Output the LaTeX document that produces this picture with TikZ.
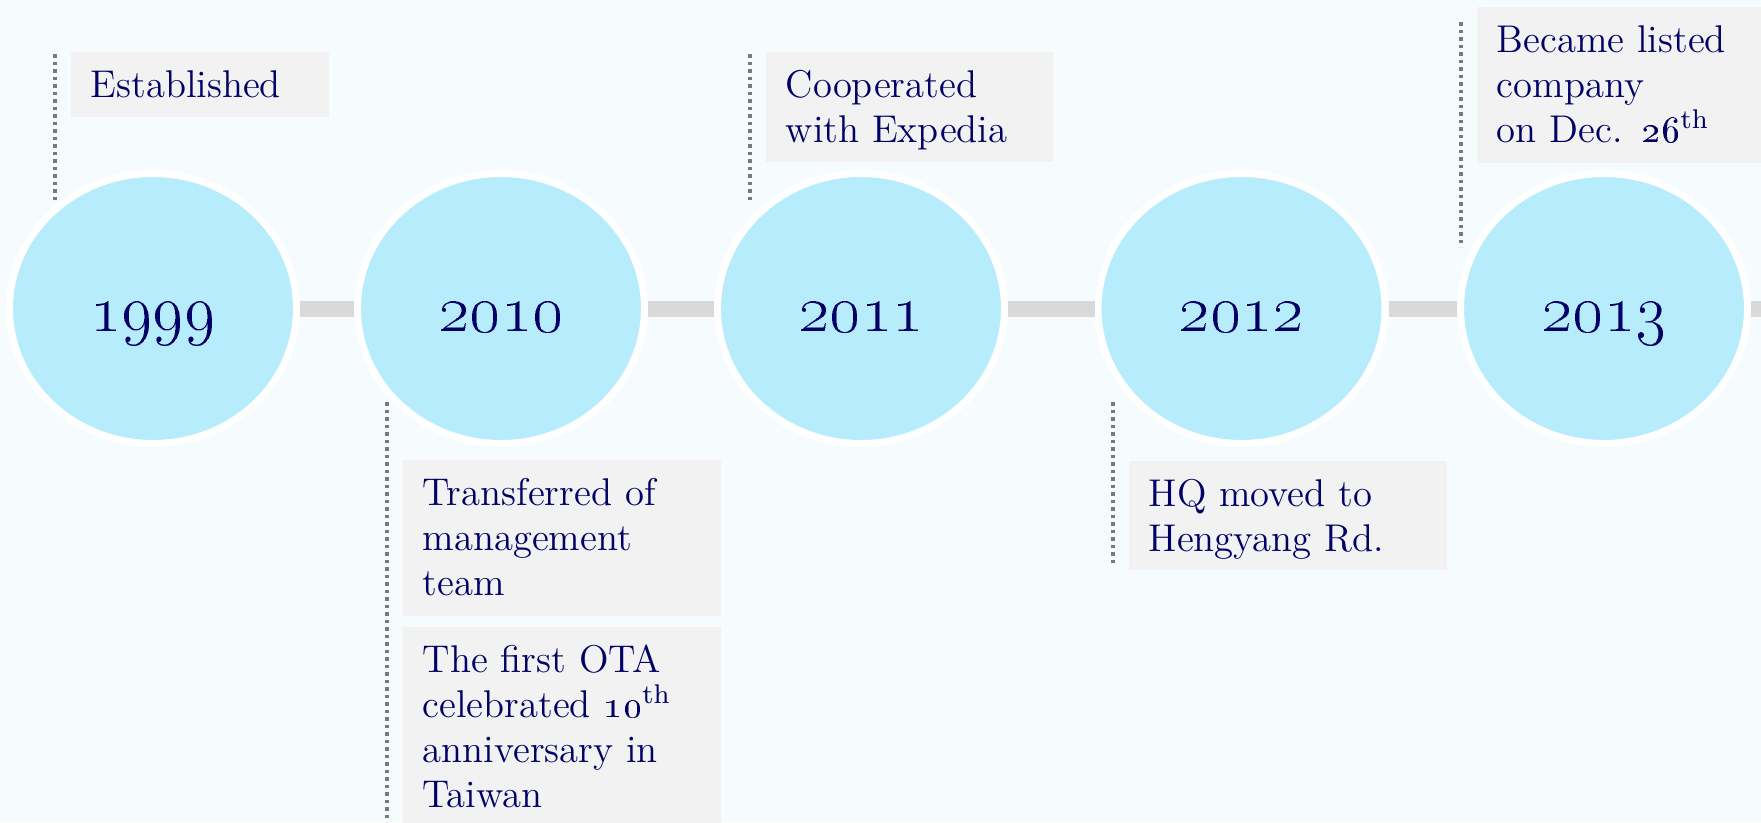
\RequirePackage{fix-cm}
\documentclass[tikz,border=0pt]{standalone}
\usetikzlibrary{shapes.geometric}
\definecolor{bgblue}{RGB}{246,251,254}
\definecolor{yearfill}{RGB}{182,236,251}
\definecolor{navy}{RGB}{0,0,102}
\definecolor{notegray}{RGB}{242,242,242}
\definecolor{bargray}{RGB}{217,217,217}
\definecolor{dotgray}{RGB}{122,122,122}
\newcommand{\yr}[1]{\raisebox{-2.25mm}[0pt][0pt]{\oldstylenums{#1}}}
\newcommand{\thsup}{\textsuperscript{th}}

\begin{document}
\begin{tikzpicture}[
   year/.style={ellipse,fill=yearfill,draw=white,line width=0.7mm,
      minimum width=2.87cm,minimum height=2.70cm,inner sep=0pt,
      text=navy,font=\fontsize{19}{22}\selectfont},
   note/.style={anchor=north west,fill=notegray,text=navy,align=left,
      text width=2.78cm,inner xsep=2mm,inner ysep=0pt,text height=4.6mm,
      font=\fontsize{11}{12.8}\selectfont},
   bar/.style={bargray,line width=1.6mm},
   leader/.style={dotgray,line width=0.4mm,dash pattern=on 0.35mm off 0.4mm}]
   \useasboundingbox (0,0) rectangle (17.61,-8.22);
   \clip (0,0) rectangle (17.61,-8.22);
   \fill[bgblue] (0,0) rectangle (17.61,-8.22);
   \draw[leader] (0.55,-0.54) -- (0.55,-2.02);
   \draw[leader] (7.50,-0.54) -- (7.50,-2.02);
   \draw[leader] (14.61,-0.22) -- (14.61,-2.47);
   \draw[leader] (3.87,-4.02) -- (3.87,-8.22);
   \draw[leader] (11.13,-4.02) -- (11.13,-5.65);
   \node[year] (c1999) at (1.53,-3.085) {\yr{1999}};
   \node[year] (c2010) at (5.01,-3.085) {\yr{2010}};
   \node[year] (c2011) at (8.61,-3.085) {\yr{2011}};
   \node[year] (c2012) at (12.415,-3.085) {\yr{2012}};
   \node[year] (c2013) at (16.04,-3.085) {\yr{2013}};
   \coordinate (edge) at (17.61,-3.085);
   \draw[bar] (c1999) -- (c2010);
   \draw[bar] (c2010) -- (c2011);
   \draw[bar] (c2011) -- (c2012);
   \draw[bar] (c2012) -- (c2013);
   \draw[bar] (c2013) -- (edge);
   \node[note,text width=2.18cm,text depth=1.9mm] (est) at (0.70,-0.51) {Established};
   \node[note,text width=2.47cm,text depth=6.4mm] (coop) at (7.65,-0.51) {Cooperated\\with Expedia};
   \node[note,text depth=11mm] (listed) at (14.76,-0.06) {Became listed\\company\\on Dec. \oldstylenums{26}\thsup};
   \node[note,text depth=11mm] (mgmt) at (4.02,-4.59) {Transferred of\\management\\team};
   \node[note,text depth=16mm] (ota) at (4.02,-6.26) {The first OTA\\celebrated \oldstylenums{10}\thsup\\anniversary in\\Taiwan};
   \node[note,text depth=6.3mm] (hq) at (11.28,-4.60) {HQ moved to\\Hengyang Rd.};
\end{tikzpicture}
\end{document}
